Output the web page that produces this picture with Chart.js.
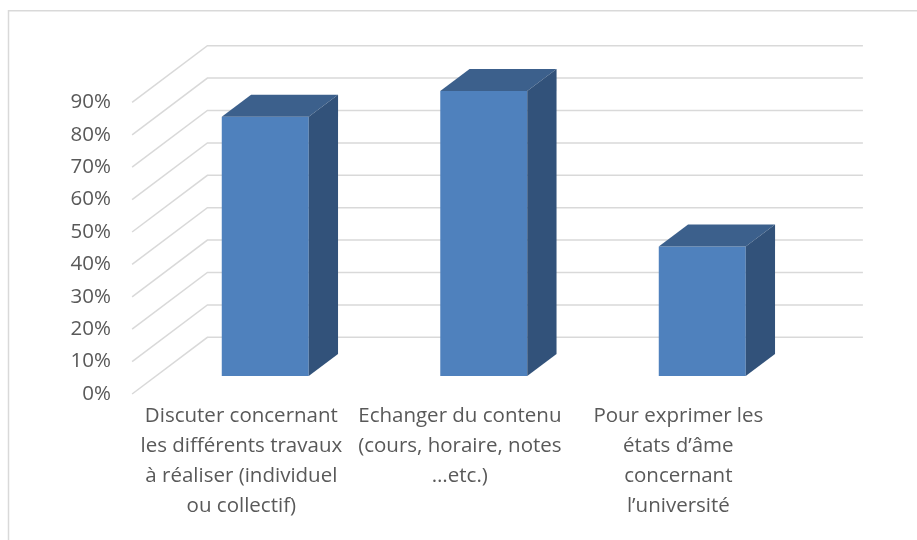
<!DOCTYPE html>
<html><head><meta charset="utf-8">
<script src="https://cdn.jsdelivr.net/npm/chart.js@4"></script>
<style>html,body{margin:0;padding:0;background:#fff}#wrap{width:917px;height:540px;position:relative}</style>
</head><body><div id="wrap"><canvas id="c" width="917" height="540"></canvas></div>
<script>
const categories = [
  ["Discuter concernant", "les différents travaux", "à réaliser (individuel", "ou collectif)"],
  ["Echanger du contenu", "(cours, horaire, notes", "…etc.)"],
  ["Pour exprimer les", "états d’âme", "concernant", "l’université"]
];
const values = [80, 88, 40];
const yTickValues = [0, 10, 20, 30, 40, 50, 60, 70, 80, 90];

// 3D projection offsets (pixels)
const FRONT_DX = -23.9, FRONT_DY = 18;    // bar plane -> front edge of floor/side wall
const WALL_DX = 75.3, WALL_DY = -56.7;    // front edge -> back wall
const BAR_DX = 29.3, BAR_DY = -22;        // bar depth

const FONT = "'Open Sans', sans-serif";
const TEXT = '#595959';
const GRID = '#D9D9D9';

const framePlugin = {
  id: 'frame',
  beforeDraw(chart) {
    const ctx = chart.ctx;
    ctx.save();
    ctx.fillStyle = '#fff';
    ctx.fillRect(0, 0, chart.width, chart.height);
    ctx.strokeStyle = GRID;
    ctx.lineWidth = 1.5;
    ctx.beginPath();
    ctx.moveTo(8.5, chart.height + 2);
    ctx.lineTo(8.5, 10.75);
    ctx.lineTo(chart.width + 2, 10.75);
    ctx.stroke();
    ctx.restore();
  }
};

const grid3dPlugin = {
  id: 'grid3d',
  beforeDatasetsDraw(chart) {
    const { ctx, chartArea: a, scales: { y } } = chart;
    ctx.save();
    ctx.strokeStyle = GRID;
    ctx.lineWidth = 1.5;
    y.ticks.forEach(t => {
      const yb = y.getPixelForValue(t.value);
      const fx = a.left + FRONT_DX, fy = yb + FRONT_DY;
      const bx = fx + WALL_DX, by = fy + WALL_DY;
      ctx.beginPath();
      ctx.moveTo(fx, fy);
      ctx.lineTo(bx, by);
      ctx.lineTo(a.right + FRONT_DX + WALL_DX, by);
      ctx.stroke();
    });
    ctx.restore();
  }
};

const bars3dPlugin = {
  id: 'bars3d',
  afterDatasetsDraw(chart) {
    const ctx = chart.ctx;
    const meta = chart.getDatasetMeta(0);
    ctx.save();
    meta.data.forEach(bar => {
      const { x, y, base, width } = bar.getProps(['x', 'y', 'base', 'width'], true);
      const l = x - width / 2, r = x + width / 2;
      // top face
      ctx.fillStyle = '#3C608C';
      ctx.beginPath();
      ctx.moveTo(l, y);
      ctx.lineTo(r, y);
      ctx.lineTo(r + BAR_DX, y + BAR_DY);
      ctx.lineTo(l + BAR_DX, y + BAR_DY);
      ctx.closePath();
      ctx.fill();
      // side face
      ctx.fillStyle = '#32527A';
      ctx.beginPath();
      ctx.moveTo(r, y);
      ctx.lineTo(r + BAR_DX, y + BAR_DY);
      ctx.lineTo(r + BAR_DX, base + BAR_DY);
      ctx.lineTo(r, base);
      ctx.closePath();
      ctx.fill();
    });
    ctx.restore();
  }
};

new Chart(document.getElementById('c'), {
  type: 'bar',
  data: {
    labels: categories,
    datasets: [{
      data: values,
      backgroundColor: '#4F81BD',
      borderWidth: 0,
      categoryPercentage: 1,
      barPercentage: 0.398
    }]
  },
  options: {
    responsive: false,
    animation: false,
    layout: { padding: { left: 0, right: 105.5, top: 84.4, bottom: 0 } },
    plugins: { legend: { display: false }, tooltip: { enabled: false } },
    scales: {
      x: {
        grid: { display: false, drawTicks: false },
        border: { display: false },
        ticks: {
          autoSkip: false, maxRotation: 0, minRotation: 0,
          color: TEXT,
          font: { family: FONT, size: 20.5, lineHeight: 1.46 },
          padding: 25,
          labelOffset: FRONT_DX
        },
        afterFit(s) { s.height = 164; }
      },
      y: {
        min: 0, max: 90,
        grid: { display: false, drawTicks: false },
        border: { display: false },
        afterBuildTicks(s) { s.ticks = yTickValues.map(v => ({ value: v })); },
        ticks: {
          color: TEXT,
          font: { family: FONT, size: 20.5 },
          padding: 45,
          labelOffset: FRONT_DY,
          callback: v => v + '%'
        },
        afterFit(s) { s.width = 156; }
      }
    }
  },
  plugins: [framePlugin, grid3dPlugin, bars3dPlugin]
});
</script>
</body></html>
